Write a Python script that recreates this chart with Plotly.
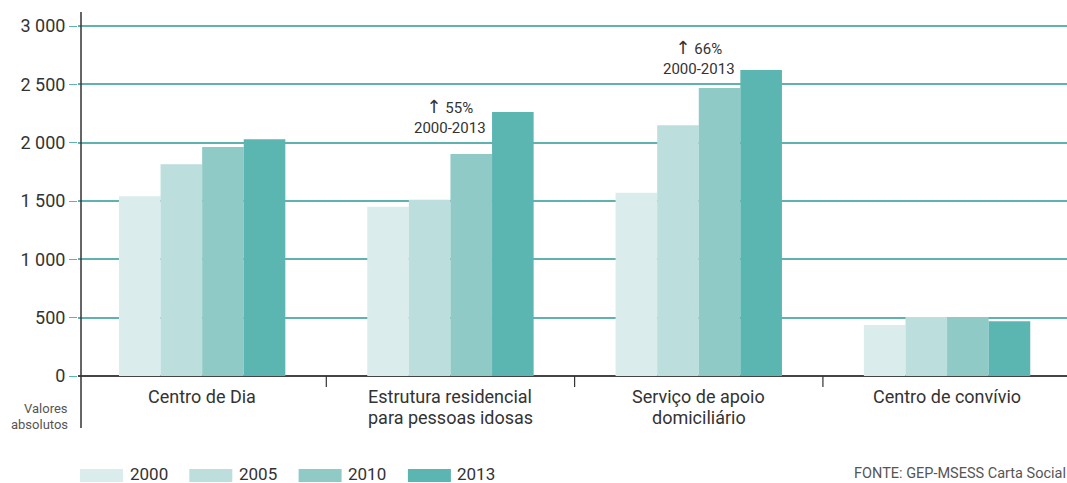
import plotly.graph_objects as go

categories = ["Centro de Dia", "Estrutura residencial<br>para pessoas idosas",
              "Serviço de apoio<br>domiciliário", "Centro de convívio"]
years = ["2000", "2005", "2010", "2013"]
v2000 = [1540, 1450, 1570, 437]
v2005 = [1815, 1510, 2150, 505]
v2010 = [1963, 1903, 2468, 505]
v2013 = [2030, 2263, 2622, 470]
series = [v2000, v2005, v2010, v2013]
colors = ["#daeceb", "#bcdedd", "#8fcac7", "#5bb5b1"]

growth_cats = [categories[1], categories[2]]
growth_pct = ["55%", "66%"]
growth_period = "2000-2013"
growth_y = [2228, 2726]

y_ticks = [0, 500, 1000, 1500, 2000, 2500, 3000]

# plot-area geometry (pixels)
L, R, T, B = 78, 1067, 12, 376
W, H = R - L, B - T
def px(x):
    return (x - L) / W
def py(y):
    return (B - y) / H

fig = go.Figure()
for yr, vals, c in zip(years, series, colors):
    fig.add_trace(go.Bar(x=categories, y=vals, name=yr, marker=dict(color=c, line=dict(width=0)),
                         showlegend=False, hoverinfo="skip"))

for cat, pct, yv in zip(growth_cats, growth_pct, growth_y):
    txt = ("<span style='font-family:DejaVu Sans;font-size:18px'>↑</span> " + pct
           + "<br>" + growth_period)
    fig.add_annotation(x=cat, y=yv, text=txt, showarrow=False, xref="x", yref="y",
                       font=dict(size=15, color="#333333", family="Roboto"), yanchor="middle")

# category labels, line by line
line_y = [396.5, 417.5]
for cat in categories:
    for j, part in enumerate(cat.split("<br>")):
        fig.add_annotation(x=cat, xref="x", yref="paper", y=py(line_y[j]), text=part,
                           showarrow=False, yanchor="middle",
                           font=dict(size=18, color="#333333", family="Roboto"))

# category boundary ticks
for k in range(len(categories) - 1):
    fig.add_shape(type="line", xref="x", yref="paper", x0=k + 0.5, x1=k + 0.5,
                  y0=0, y1=py(387), line=dict(color="#333333", width=1.2))

# custom legend with wide swatches
for i, (yr, c) in enumerate(zip(years, colors)):
    x0 = 80 + i * 109.3
    fig.add_shape(type="rect", xref="paper", yref="paper",
                  x0=px(x0), x1=px(x0 + 43), y0=py(469), y1=py(482),
                  fillcolor=c, line=dict(width=0), layer="above")
    fig.add_annotation(xref="paper", yref="paper", x=px(x0 + 47.5), y=py(474),
                       text=yr, showarrow=False, xanchor="left", yanchor="middle",
                       font=dict(size=17, color="#333333", family="Roboto"))

# y axis line extending below zero
fig.add_shape(type="line", xref="paper", yref="paper", x0=px(81), x1=px(81), y0=1, y1=py(428),
              line=dict(color="#333333", width=1.5))

fig.add_annotation(xref="paper", yref="paper", x=px(70), y=py(408.5),
                   text="Valores", showarrow=False, xanchor="right", yanchor="middle",
                   font=dict(size=13, color="#555555", family="Roboto"))
fig.add_annotation(xref="paper", yref="paper", x=px(70), y=py(424),
                   text="absolutos", showarrow=False, xanchor="right", yanchor="middle",
                   font=dict(size=13, color="#555555", family="Roboto"))

fig.add_annotation(xref="paper", yref="paper", x=px(1068), y=py(473.5),
                   text="FONTE: GEP-MSESS Carta Social", showarrow=False, xanchor="right",
                   yanchor="middle", font=dict(size=14.5, color="#555555", family="Roboto"))

fig.update_layout(
    width=1067, height=483,
    margin=dict(l=L, r=1067 - R, t=T, b=483 - B),
    plot_bgcolor="white", paper_bgcolor="white",
    barmode="group", bargap=0.33, bargroupgap=0,
    separators=", ",
    font=dict(family="Roboto", color="#333333"),
    xaxis=dict(type="category", range=[-0.5, 3.483], ticks="", showticklabels=False,
               showgrid=False, showline=False, fixedrange=True),
    yaxis=dict(range=[0, 3120], tickvals=y_ticks, tickformat=",d", showgrid=True,
               gridcolor="#5fb3ae", gridwidth=1.5, zeroline=True, zerolinecolor="#444444",
               zerolinewidth=2, ticks="outside", ticklen=8, tickcolor="#5fb3ae",
               showline=False, tickfont=dict(size=18, color="#333333"), fixedrange=True),
)

fig.write_html("out.html", config={"displayModeBar": False})
with open("out.html", "r", encoding="utf-8") as f:
    html = f.read()
html = html.replace("<body>", "<body style=\"margin:0;padding:0;overflow:hidden\">", 1)
with open("out.html", "w", encoding="utf-8") as f:
    f.write(html)
